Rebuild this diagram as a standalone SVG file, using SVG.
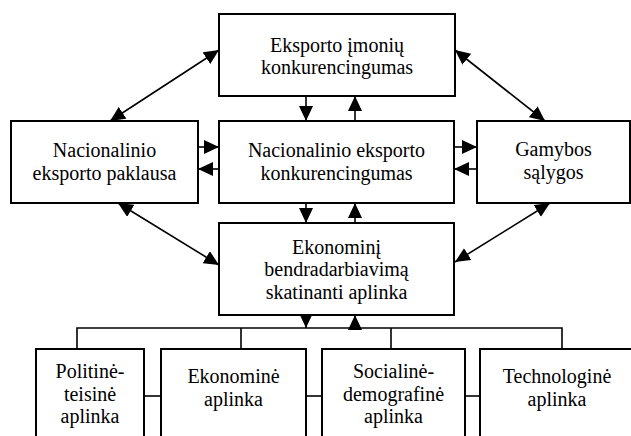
<svg xmlns="http://www.w3.org/2000/svg" width="631" height="436" viewBox="0 0 631 436">
<style>
.box{fill:#fff;stroke:#000;stroke-width:2}
.t{font-family:"Liberation Serif","Times New Roman",serif;font-size:20px;fill:#000;text-anchor:middle}
.c{stroke:#000;stroke-width:1.6;fill:none}
.a{marker-end:url(#ah)}
.d{marker-end:url(#ah);marker-start:url(#ah)}
</style>
<defs>
<marker id="ah" markerUnits="userSpaceOnUse" markerWidth="15" markerHeight="14" refX="15" refY="7" orient="auto-start-reverse" viewBox="0 0 15 14">
<path d="M0,0 L15,7 L0,14 z" fill="#000"/>
</marker>
</defs>
<rect width="631" height="436" fill="#fff"/>
<g id="connectors">
<line class="c d" x1="110" y1="121" x2="219" y2="50"/>
<line class="c d" x1="455" y1="50" x2="545" y2="121"/>
<line class="c d" x1="118" y1="203" x2="219" y2="265"/>
<line class="c d" x1="455" y1="262" x2="550" y2="203"/>
<line class="c a" x1="306" y1="96" x2="306" y2="121"/>
<line class="c a" x1="355" y1="121" x2="355" y2="96"/>
<line class="c a" x1="306" y1="203" x2="306" y2="223"/>
<line class="c a" x1="355" y1="223" x2="355" y2="203"/>
<line class="c a" x1="198" y1="147" x2="219" y2="147"/>
<line class="c a" x1="219" y1="169" x2="198" y2="169"/>
<line class="c a" x1="454" y1="147" x2="477" y2="147"/>
<line class="c a" x1="477" y1="169" x2="454" y2="169"/>
<line class="c a" x1="306" y1="315" x2="306" y2="328"/>
<line class="c a" x1="355" y1="328" x2="355" y2="315"/>
<polyline class="c" points="77,349 77,328 562,328 562,349"/>
<line class="c" x1="241" y1="328" x2="241" y2="349"/>
<line class="c" x1="391" y1="328" x2="391" y2="349"/>
<line class="c" x1="144" y1="396" x2="161" y2="396"/>
<line class="c" x1="306" y1="396" x2="322" y2="396"/>
<line class="c" x1="465" y1="396" x2="480" y2="396"/>
</g>
<g id="n_top">
<rect class="box" x="219" y="14" width="236" height="82"/>
<text class="t" x="337" y="51.5">Eksporto įmonių</text>
<text class="t" x="337" y="73.5">konkurencingumas</text>
</g>
<g id="n_left">
<rect class="box" x="11" y="121" width="187" height="82"/>
<text class="t" x="104.5" y="157">Nacionalinio</text>
<text class="t" x="104.5" y="179.5">eksporto paklausa</text>
</g>
<g id="n_mid">
<rect class="box" x="219" y="121" width="235" height="82"/>
<text class="t" x="336.5" y="157">Nacionalinio eksporto</text>
<text class="t" x="336.5" y="179.5">konkurencingumas</text>
</g>
<g id="n_right">
<rect class="box" x="477" y="121" width="153" height="82"/>
<text class="t" x="553.5" y="156">Gamybos</text>
<text class="t" x="553.5" y="178.5">sąlygos</text>
</g>
<g id="n_env">
<rect class="box" x="219" y="223" width="235" height="92"/>
<text class="t" x="336.5" y="253.5">Ekonominį</text>
<text class="t" x="336.5" y="276">bendradarbiavimą</text>
<text class="t" x="336.5" y="298.5">skatinanti aplinka</text>
</g>
<g id="n_pol">
<rect class="box" x="36" y="349" width="108" height="95"/>
<text class="t" x="90" y="378">Politinė-</text>
<text class="t" x="90" y="400.5">teisinė</text>
<text class="t" x="90" y="423">aplinka</text>
</g>
<g id="n_eko">
<rect class="box" x="161" y="349" width="145" height="95"/>
<text class="t" x="233.5" y="383">Ekonominė</text>
<text class="t" x="233.5" y="406">aplinka</text>
</g>
<g id="n_soc">
<rect class="box" x="322" y="349" width="143" height="95"/>
<text class="t" x="393.5" y="378">Socialinė-</text>
<text class="t" x="393.5" y="400.5">demografinė</text>
<text class="t" x="393.5" y="423">aplinka</text>
</g>
<g id="n_tech">
<rect class="box" x="480" y="349" width="160" height="95"/>
<text class="t" x="557" y="383">Technologinė</text>
<text class="t" x="557" y="406">aplinka</text>
</g>
</svg>
